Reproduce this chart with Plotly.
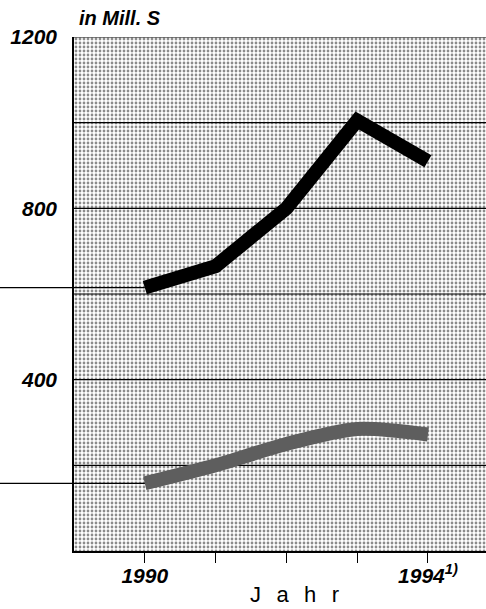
import plotly.graph_objects as go

years = [1990, 1991, 1992, 1993, 1994]
series_black = [615, 665, 800, 1005, 910]
series_grey = [158, 200, 250, 285, 272]

grid_values = [200, 400, 600, 800, 1000, 1200]
y_label_vals = [400, 800, 1200]
y_label_text = ["400", "800", "1200"]
x_label_vals = [1990, 1994]
x_label_text = ["1990", "1994<sup>1)</sup>"]

x_range = [1989.0, 1994.82]
y_range = [0, 1200]

FONT = "Liberation Sans"

fig = go.Figure()

# dotted halftone background
fig.add_trace(go.Bar(
    x=[(x_range[0] + x_range[1]) / 2], y=[y_range[1]],
    width=[x_range[1] - x_range[0]],
    marker=dict(color="white", line=dict(width=0),
                pattern=dict(shape=".", fgcolor="#1a1a1a", bgcolor="white",
                             size=4, solidity=0.38)),
    hoverinfo="skip", showlegend=False,
))

# horizontal grid lines drawn above the halftone
for v in grid_values:
    fig.add_trace(go.Scatter(
        x=x_range, y=[v, v], mode="lines",
        line=dict(color="black", width=1.2),
        hoverinfo="skip", showlegend=False,
    ))

fig.add_trace(go.Scatter(
    x=years, y=series_grey, mode="lines",
    line=dict(color="#5e5e5e", width=14, shape="spline", smoothing=0.8),
    showlegend=False,
))
fig.add_trace(go.Scatter(
    x=years, y=series_black, mode="lines",
    line=dict(color="black", width=14),
    showlegend=False,
))

# leader lines from the left edge to series start
for v in (series_black[0], series_grey[0]):
    fig.add_shape(type="line", xref="paper", yref="paper",
                  x0=-74 / 412, x1=(years[0] - x_range[0]) / (x_range[1] - x_range[0]),
                  y0=v / y_range[1], y1=v / y_range[1],
                  line=dict(color="black", width=1.2), layer="above")

fig.update_layout(
    width=486, height=609,
    margin=dict(l=74, r=0, t=37, b=58),
    paper_bgcolor="white", plot_bgcolor="white",
    barmode="overlay",
    font=dict(family=FONT, color="black"),
    xaxis=dict(range=x_range, tickvals=x_label_vals, ticktext=x_label_text,
               ticks="outside", ticklen=10, tickwidth=1.2, tickcolor="black",
               minor=dict(tickvals=years, ticks="outside", ticklen=10,
                          tickwidth=1.2, tickcolor="black", showgrid=False),
               showgrid=False, showline=True, linecolor="black", linewidth=1.5,
               zeroline=False, ticklabelstandoff=-5,
               tickfont=dict(family=FONT, size=21, weight="bold", style="italic")),
    yaxis=dict(range=y_range, tickvals=y_label_vals, ticktext=y_label_text,
               showgrid=False,
               showline=True, linecolor="black", linewidth=1.5,
               zeroline=False, ticks="", ticklabelstandoff=11,
               tickfont=dict(family=FONT, size=21, weight="bold", style="italic")),
    annotations=[
        dict(text="in Mill. S", xref="paper", yref="paper", x=0.008, y=1 + 19 / 514,
             xanchor="left", yanchor="middle", showarrow=False,
             font=dict(family=FONT, size=20, weight="bold", style="italic")),
        dict(text="J\u2002\u2009a\u2002\u2009h\u2002\u2009r", xref="paper", yref="paper",
             x=0.534, y=-43 / 514, xanchor="center", yanchor="middle", showarrow=False,
             font=dict(family=FONT, size=22)),
    ],
)

fig.write_html("out.html", config={"displayModeBar": False},
               post_script="document.body.style.margin='0';document.body.style.overflow='hidden';")
